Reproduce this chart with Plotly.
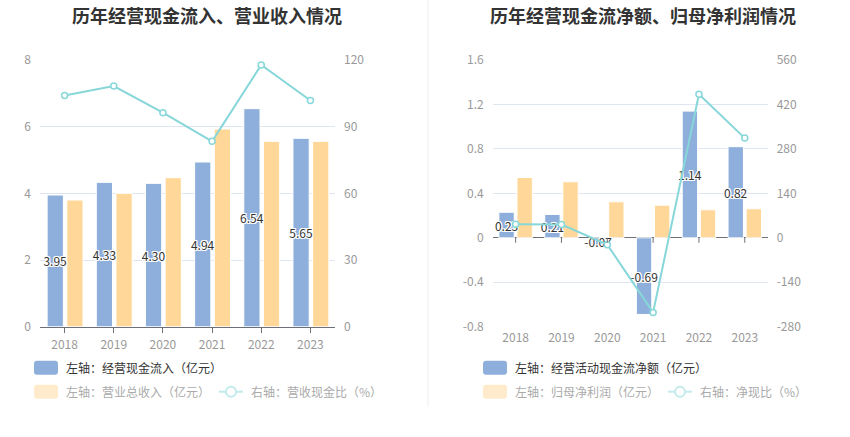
import plotly.graph_objects as go

years = ["2018", "2019", "2020", "2021", "2022", "2023"]

# Left chart
cash_in = [3.95, 4.33, 4.30, 4.94, 6.54, 5.65]          # 经营现金流入（亿元）
revenue = [3.80, 4.00, 4.47, 5.93, 5.56, 5.56]          # 营业总收入（亿元）
cash_rev_ratio = [104.0, 108.3, 96.3, 83.4, 117.8, 101.8]  # 营收现金比（%）

# Right chart
op_cf_net = [0.23, 0.21, -0.07, -0.69, 1.14, 0.82]      # 经营活动现金流净额（亿元）
net_profit = [0.543, 0.504, 0.324, 0.294, 0.252, 0.261]  # 归母净利润（亿元）
net_cash_ratio = [42.4, 41.7, -21.6, -235.0, 452.0, 314.0]  # 净现比（%）

left_y_ticks = [0, 2, 4, 6, 8]
left_y_text = ["0", "2", "4", "6", "8"]
left_y2_ticks = [0, 30, 60, 90, 120]
left_y2_text = ["0", "30", "60", "90", "120"]
right_y_ticks = [-0.8, -0.4, 0, 0.4, 0.8, 1.2, 1.6]
right_y_text = ["-0.8", "-0.4", "0", "0.4", "0.8", "1.2", "1.6"]
right_y2_ticks = [-280, -140, 0, 140, 280, 420, 560]
right_y2_text = ["-280", "-140", "0", "140", "280", "420", "560"]

BLUE = "#8eaedb"
YELLOW = "#ffd899"
CYAN = "#87d7d9"
GRID = "#e0e6f1"
AXIS = "#6e7079"
TICK = "#999999"
FONT = "Noto Sans CJK SC"
W, H = 850, 437

def px(x):
    return x / W

def py(y):
    return 1 - y / H

halo = "-1px -1px 0 #fff, 1px -1px 0 #fff, -1px 1px 0 #fff, 1px 1px 0 #fff, 0 1px 0 #fff, 0 -1px 0 #fff, 1px 0 0 #fff, -1px 0 0 #fff"

fig = go.Figure()

def bar_pair(xa, ya, blue_vals, yellow_vals, blue_off, yellow_off, bw):
    # yellow first so the blue bar's value labels sit on top
    fig.add_trace(go.Bar(
        x=years, y=yellow_vals, xaxis=xa, yaxis=ya, offset=yellow_off, width=bw,
        marker=dict(color=YELLOW, line=dict(color="#ffffff", width=1)),
        showlegend=False, hoverinfo="skip"))
    fig.add_trace(go.Bar(
        x=years, y=blue_vals, xaxis=xa, yaxis=ya, offset=blue_off, width=bw,
        marker=dict(color=BLUE, line=dict(color="#ffffff", width=1)),
        texttemplate="%{y:.2f}", textposition="inside", insidetextanchor="middle",
        constraintext="none", textangle=0,
        textfont=dict(family=FONT, size=12, color="#333333", shadow=halo),
        showlegend=False, hoverinfo="skip"))

def line(xa, ya, vals):
    fig.add_trace(go.Scatter(
        x=years, y=vals, xaxis=xa, yaxis=ya, mode="lines+markers",
        line=dict(color=CYAN, width=2),
        marker=dict(symbol="circle", size=6, color="#ffffff", line=dict(color=CYAN, width=1.5)),
        showlegend=False, hoverinfo="skip", cliponaxis=False))

bar_pair("x", "y", cash_in, revenue, -0.355, 0.045, 0.33)
line("x", "y2", cash_rev_ratio)
bar_pair("x2", "y3", op_cf_net, net_profit, -0.365, 0.03, 0.335)
line("x2", "y4", net_cash_ratio)

ydom = [1 - 326.7 / H, 1 - 60 / H]
tickfont = dict(family=FONT, size=12, color=TICK)

fig.update_layout(
    width=W, height=H, autosize=False,
    margin=dict(l=0, r=0, t=0, b=0, pad=0, autoexpand=False),
    paper_bgcolor="#ffffff", plot_bgcolor="#ffffff",
    barmode="overlay",
    font=dict(family=FONT),
    xaxis=dict(domain=[px(40), px(335)], anchor="y", type="category", automargin=False,
               showline=True, linecolor=AXIS, linewidth=1,
               ticks="outside", ticklen=5, tickcolor=AXIS,
               showgrid=False, tickfont=tickfont, ticklabelstandoff=2),
    yaxis=dict(domain=ydom, anchor="x", range=[0, 8], tickvals=left_y_ticks, ticktext=left_y_text,
               showgrid=True, gridcolor=GRID, zeroline=False, showline=False, automargin=False,
               tickfont=tickfont, ticklabelstandoff=8),
    yaxis2=dict(overlaying="y", side="right", anchor="x", range=[0, 120],
                tickvals=left_y2_ticks, ticktext=left_y2_text, automargin=False,
                showgrid=False, zeroline=False, showline=False,
                tickfont=tickfont, ticklabelstandoff=8),
    xaxis2=dict(domain=[px(492.7), px(767.7)], anchor="y3", type="category", automargin=False,
                showline=False, ticks="", showgrid=False, tickfont=tickfont,
                ticklabelstandoff=2),
    yaxis3=dict(domain=ydom, anchor="x2", range=[-0.8, 1.6], tickvals=right_y_ticks, ticktext=right_y_text,
                showgrid=True, gridcolor=GRID, zeroline=True, zerolinecolor=AXIS, zerolinewidth=1,
                showline=False, tickfont=tickfont, ticklabelstandoff=8, automargin=False),
    yaxis4=dict(overlaying="y3", side="right", anchor="x2", range=[-280, 560],
                tickvals=right_y2_ticks, ticktext=right_y2_text, automargin=False,
                showgrid=False, zeroline=False, showline=False,
                tickfont=tickfont, ticklabelstandoff=8),
)

# tick marks on the right chart's zero axis line (category index positions)
for i in range(len(years)):
    fig.add_shape(type="line", xref="x2", yref="y3", x0=i, x1=i, y0=0, y1=-0.045,
                  line=dict(color=AXIS, width=1))

# separator
fig.add_shape(type="line", xref="paper", yref="paper", x0=px(428), x1=px(428),
              y0=py(407), y1=1, line=dict(color="#eeeeee", width=1))

# titles
for cx, txt in [(207, "历年经营现金流入、营业收入情况"), (643, "历年经营现金流净额、归母净利润情况")]:
    fig.add_annotation(text="<b>" + txt + "</b>", xref="paper", yref="paper",
                       x=px(cx), y=py(15), xanchor="center", yanchor="middle",
                       showarrow=False, font=dict(family=FONT, size=18, color="#333333"))

def rounded_rect(x0, y0, x1, y1, r=3):
    X0, X1 = px(x0), px(x1)
    Y0, Y1 = py(y0), py(y1)
    rx, ry = r / W, r / H
    return (f"M {X0+rx},{Y0} L {X1-rx},{Y0} Q {X1},{Y0} {X1},{Y0-ry} "
            f"L {X1},{Y1+ry} Q {X1},{Y1} {X1-rx},{Y1} L {X0+rx},{Y1} "
            f"Q {X0},{Y1} {X0},{Y1+ry} L {X0},{Y0-ry} Q {X0},{Y0} {X0+rx},{Y0} Z")

def legend_box(x, yc, color, text, tcolor):
    fig.add_shape(type="path", xref="paper", yref="paper",
                  path=rounded_rect(x, yc - 7, x + 24, yc + 7), fillcolor=color,
                  line=dict(width=0))
    fig.add_annotation(text=text, xref="paper", yref="paper", x=px(x + 30), y=py(yc),
                       xanchor="left", yanchor="middle", showarrow=False,
                       font=dict(family=FONT, size=12, color=tcolor))

def legend_line(x, yc, text, tcolor):
    lc = "#c3ebec"
    fig.add_shape(type="line", xref="paper", yref="paper", x0=px(x), x1=px(x + 24),
                  y0=py(yc), y1=py(yc), line=dict(color=lc, width=2))
    fig.add_shape(type="circle", xref="paper", yref="paper", x0=px(x + 7), x1=px(x + 17),
                  y0=py(yc - 5), y1=py(yc + 5), fillcolor="#ffffff", line=dict(color=lc, width=2))
    fig.add_annotation(text=text, xref="paper", yref="paper", x=px(x + 30), y=py(yc),
                       xanchor="left", yanchor="middle", showarrow=False,
                       font=dict(family=FONT, size=12, color=tcolor))

legend_box(34, 367.7, BLUE, "左轴：经营现金流入（亿元）", "#333333")
legend_box(34, 391.7, "#ffebcc", "左轴：营业总收入（亿元）", "#aaaaaa")
legend_line(219, 391.7, "右轴：营收现金比（%）", "#aaaaaa")

legend_box(483, 367.7, BLUE, "左轴：经营活动现金流净额（亿元）", "#333333")
legend_box(483, 391.7, "#ffebcc", "左轴：归母净利润（亿元）", "#aaaaaa")
legend_line(668, 391.7, "右轴：净现比（%）", "#aaaaaa")

fig.write_html("out.html", config={"displayModeBar": False},
               post_script="document.body.style.margin='0';document.body.style.overflow='hidden';")
